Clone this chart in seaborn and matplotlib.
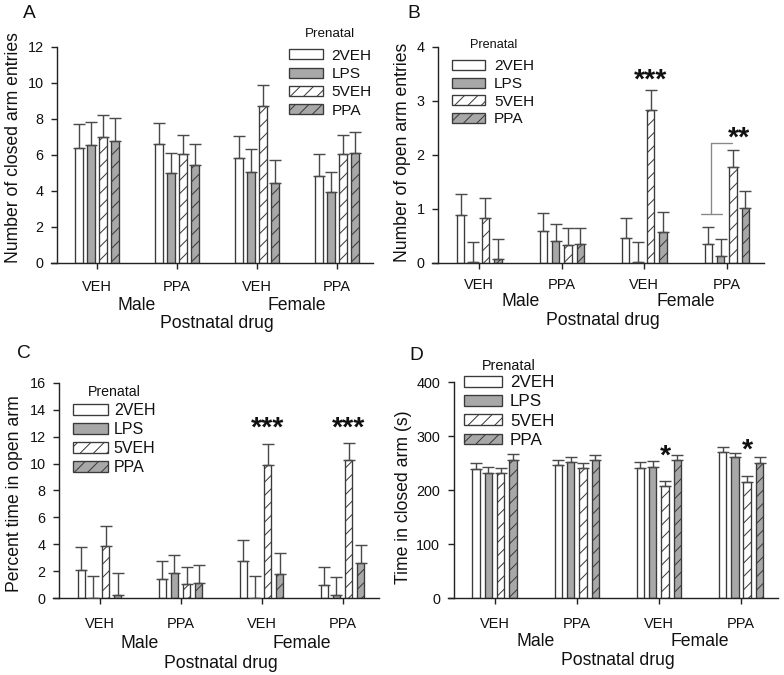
import numpy as np
import pandas as pd
import matplotlib
matplotlib.use("Agg")
import matplotlib.pyplot as plt
import matplotlib.patches as mpatches
import seaborn as sns

# ---------------- data ----------------
groups = ["Male VEH", "Male PPA", "Female VEH", "Female PPA"]
postnatal_labels = ["VEH", "PPA", "VEH", "PPA"]
sex_labels = ["Male", "Female"]
prenatal = ["2VEH", "LPS", "5VEH", "PPA"]

# A: Number of closed arm entries
a_2veh = [6.35, 6.60, 5.80, 4.83]
a_lps = [6.56, 4.97, 5.05, 3.95]
a_5veh = [7.00, 6.02, 8.68, 6.02]
a_ppa = [6.78, 5.45, 4.45, 6.10]
a_err_2veh = [1.35, 1.18, 1.25, 1.19]
a_err_lps = [1.25, 1.13, 1.25, 1.10]
a_err_5veh = [1.20, 1.06, 1.22, 1.06]
a_err_ppa = [1.25, 1.13, 1.25, 1.15]

# B: Number of open arm entries
b_2veh = [0.88, 0.59, 0.45, 0.34]
b_lps = [0.02, 0.40, 0.02, 0.13]
b_5veh = [0.83, 0.33, 2.83, 1.77]
b_ppa = [0.06, 0.35, 0.57, 1.01]
b_err_2veh = [0.40, 0.33, 0.37, 0.33]
b_err_lps = [0.36, 0.31, 0.36, 0.31]
b_err_5veh = [0.36, 0.31, 0.36, 0.31]
b_err_ppa = [0.37, 0.30, 0.36, 0.32]

# C: Percent time in open arm
c_2veh = [2.10, 1.43, 2.75, 1.00]
c_lps = [0.05, 1.88, 0.05, 0.25]
c_5veh = [3.88, 1.05, 9.92, 10.28]
c_ppa = [0.28, 1.15, 1.78, 2.65]
c_err_2veh = [1.73, 1.35, 1.58, 1.33]
c_err_lps = [1.61, 1.32, 1.61, 1.30]
c_err_5veh = [1.52, 1.25, 1.53, 1.27]
c_err_ppa = [1.57, 1.30, 1.57, 1.28]

# D: Time in closed arm (s)
d_2veh = [239, 247, 241, 271]
d_lps = [232, 252, 244, 261]
d_5veh = [232, 241, 208, 215]
d_ppa = [256, 256, 256, 250]
d_err_2veh = [11, 10, 12, 10]
d_err_lps = [11, 10, 10, 9]
d_err_5veh = [10, 9, 10, 11]
d_err_ppa = [11, 10, 10, 11]

# significance marks: (group index, level, text)
b_marks = [(2, 3.54, "***"), (3, 2.46, "**")]
c_marks = [(2, 13.29, "***"), (3, 13.29, "***")]
d_marks = [(2, 280, "*"), (3, 290, "*")]

# ---------------- style ----------------
sns.set_style("ticks")
plt.rcParams["font.family"] = ["Liberation Sans", "DejaVu Sans"]
plt.rcParams["hatch.linewidth"] = 0.6
plt.rcParams["hatch.color"] = "#2a2a2a"
plt.rcParams["text.color"] = "#111111"
plt.rcParams["xtick.color"] = "#111111"
plt.rcParams["ytick.color"] = "#111111"
plt.rcParams["axes.labelcolor"] = "#111111"

W, H, DPI = 784, 675, 120
PT = 72.0 / DPI  # points per pixel
EDGE = "#3a3a3a"
ERR = "#4a4a4a"
GRAY = "#a8a8a8"
palette = {"2VEH": "white", "LPS": GRAY, "5VEH": "white", "PPA": GRAY}
hatches = {"2VEH": "", "LPS": "", "5VEH": "///", "PPA": "///"}

fig = plt.figure(figsize=(W / DPI, H / DPI), dpi=DPI)

XMIN, XMAX, YAX = -0.57, 3.45, -0.5


def make_axes(yaxis_px, right_px, top_px, bottom_px):
    ppu = (right_px - yaxis_px) / (XMAX - YAX)
    left_px = yaxis_px - (YAX - XMIN) * ppu
    ax = fig.add_axes([left_px / W, 1 - bottom_px / H,
                       (right_px - left_px) / W, (bottom_px - top_px) / H])
    return ax, left_px, right_px - left_px, bottom_px - top_px


def panel(pos, values, errs, ylim, ystep, ylabel, letter, letter_xy,
          ylab_base_px, ylab_center_px, offs, leg):
    ax, left_px, wpx, hpx = make_axes(*pos)
    rows = []
    for k, lev in enumerate(prenatal):
        for g, v in zip(groups, values[k]):
            rows.append({"group": g, "prenatal": lev, "value": v})
    df = pd.DataFrame(rows)
    sns.barplot(data=df, x="group", y="value", hue="prenatal", order=groups,
                hue_order=prenatal, palette=palette, saturation=1, width=0.6,
                gap=0.4, errorbar=None, edgecolor=EDGE, linewidth=0.8,
                legend=False, ax=ax, zorder=2)
    bar_containers = list(ax.containers)
    for k, cont in enumerate(bar_containers):
        xs = []
        for p in cont.patches:
            p.set_hatch(hatches[prenatal[k]])
            xs.append(p.get_x() + p.get_width() / 2)
        ax.errorbar(xs, values[k], yerr=[np.zeros(len(xs)), errs[k]], fmt="none",
                    ecolor=ERR, elinewidth=0.85, capsize=3.4, capthick=0.85, zorder=3)

    ax.set_xlim(XMIN, XMAX)
    ax.set_ylim(*ylim)
    ax.set_yticks(np.arange(ylim[0], ylim[1] + ystep / 2, ystep))
    ax.set_xticks(range(len(groups)))
    ax.set_xticklabels(postnatal_labels)
    sns.despine(ax=ax)
    ax.spines["left"].set_position(("data", YAX))
    for s in ("left", "bottom"):
        ax.spines[s].set_linewidth(0.85)
        ax.spines[s].set_color("#222222")
    ax.tick_params(axis="y", direction="out", length=3.8, width=0.85,
                   pad=4.2, labelsize=8.6, color="#222222")
    ax.tick_params(axis="x", direction="out", length=3.6, width=0.85,
                   pad=offs[0] * PT - 3.6, labelsize=8.7, color="#222222")

    for i, s in enumerate(sex_labels):
        ax.annotate(s, xy=(0.5 + 2 * i, 0), xycoords=("data", "axes fraction"),
                    xytext=(0, -offs[1] * PT), textcoords="offset points",
                    ha="center", va="top", fontsize=10.6)
    ax.set_xlabel("Postnatal drug", fontsize=10.6)
    ax.xaxis.set_label_coords((1.5 - XMIN) / (XMAX - XMIN), -offs[2] / hpx)

    ax.set_ylabel(ylabel, fontsize=10.6)
    ax.yaxis.set_label_coords((ylab_base_px + 3.7 - left_px) / wpx,
                              (pos[3] - ylab_center_px) / hpx)

    fig.text(letter_xy[0] / W, 1 - letter_xy[1] / H, letter, fontsize=11.5,
             ha="left", va="top")

    handles = [mpatches.Patch(facecolor=palette[k], edgecolor=EDGE, linewidth=0.8,
                              hatch=hatches[k], label=k) for k in prenatal]
    lx, ly, fs, tfs, hl, hh, htp, ls, gap_pt = leg
    lg = ax.legend(handles=handles, title="Prenatal", loc="upper left",
                   bbox_to_anchor=(lx / W, 1 - ly / H), bbox_transform=fig.transFigure,
                   frameon=False, fontsize=fs, title_fontsize=tfs, handlelength=hl,
                   handleheight=hh, handletextpad=htp, labelspacing=ls,
                   borderpad=0, borderaxespad=0)
    lg._legend_box.sep = gap_pt
    return ax


def add_marks(ax, marks, fs=17):
    for g, lev, txt in marks:
        ax.annotate(txt, xy=(g + 0.075 + (0.075 if txt == "**" else 0), lev),
                    xytext=(0, -0.57 * fs), textcoords="offset points",
                    ha="center", va="baseline", fontsize=fs, fontweight="bold")


axA = panel((57, 373, 46.7, 262.7),
            [a_2veh, a_lps, a_5veh, a_ppa],
            [a_err_2veh, a_err_lps, a_err_5veh, a_err_ppa],
            (0, 12), 2, "Number of closed arm entries", "A", (23, 5),
            18.3, 147.5, (17.3, 34, 52.3),
            (289, 28, 9.2, 8.0, 2.2, 0.63, 0.58, 0.28, 5.3))

axB = panel((438, 764, 46.7, 262.7),
            [b_2veh, b_lps, b_5veh, b_ppa],
            [b_err_2veh, b_err_lps, b_err_5veh, b_err_ppa],
            (0, 4), 1, "Number of open arm entries", "B", (407, 5),
            407, 152.5, (15.6, 30.6, 49),
            (452, 38.5, 9.2, 7.6, 2.15, 0.63, 0.6, 0.24, 5.3))
add_marks(axB, b_marks)
# bracket for the ** comparison (annotation geometry)
axB.plot([2.69, 2.945], [0.91, 0.91], color="#888888", lw=0.8, zorder=4)
axB.plot([2.805, 2.805], [0.91, 2.22], color="#888888", lw=0.8, zorder=4)
axB.plot([2.805, 3.067], [2.22, 2.22], color="#888888", lw=0.8, zorder=4)

axC = panel((59, 379, 382.7, 598.3),
            [c_2veh, c_lps, c_5veh, c_ppa],
            [c_err_2veh, c_err_lps, c_err_5veh, c_err_ppa],
            (0, 16), 2, "Percent time in open arm", "C", (17, 345),
            19, 493.3, (18.4, 36.7, 56.7),
            (73, 384.5, 9.6, 8.5, 2.2, 0.68, 0.35, 0.24, 2.9))
add_marks(axC, c_marks)

axD = panel((453.5, 778, 382.3, 598.3),
            [d_2veh, d_lps, d_5veh, d_ppa],
            [d_err_2veh, d_err_lps, d_err_5veh, d_err_ppa],
            (0, 400), 100, "Time in closed arm (s)", "D", (409, 347),
            408, 497.5, (18.4, 35, 53.4),
            (464, 358.5, 10.2, 8.6, 2.25, 0.6, 0.45, 0.25, 1.6))
add_marks(axD, d_marks)

fig.savefig("out.png", dpi=DPI)
